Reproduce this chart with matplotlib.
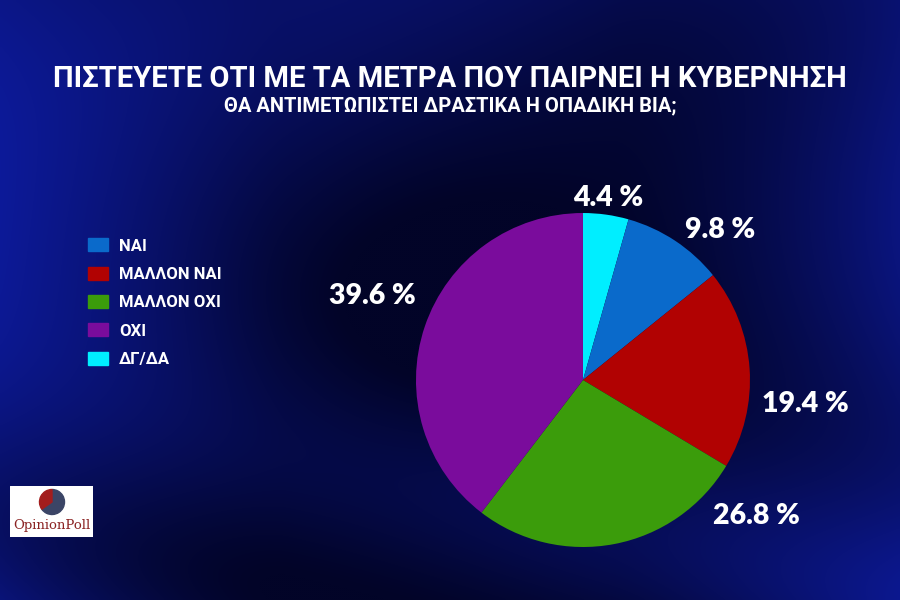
import numpy as np
import matplotlib.pyplot as plt
from matplotlib.patches import Rectangle, Wedge

# data
categories = ['ΝΑΙ', 'ΜΑΛΛΟΝ ΝΑΙ', 'ΜΑΛΛΟΝ ΟΧΙ', 'ΟΧΙ', 'ΔΓ/ΔΑ']
values = [9.8, 19.4, 26.8, 39.6, 4.4]
colors = ['#0a6acb', '#b10202', '#3b9c0b', '#7a0c9c', '#00eeff']

# pie drawn clockwise from 12 o'clock, starting with ΔΓ/ΔΑ
pie_order = [4, 0, 1, 2, 3]
# label placement (radius, angle shift in degrees from slice middle)
label_place = [(1.10, 0), (1.22, -9), (1.34, -10), (1.32, 41), (1.36, -3)]

title = 'ΠΙΣΤΕΥΕΤΕ ΟΤΙ ΜΕ ΤΑ ΜΕΤΡΑ ΠΟΥ ΠΑΙΡΝΕΙ Η ΚΥΒΕΡΝΗΣΗ'
subtitle = 'ΘΑ ΑΝΤΙΜΕΤΩΠΙΣΤΕΙ ΔΡΑΣΤΙΚΑ Η ΟΠΑΔΙΚΗ ΒΙΑ;'

narrow = ['Roboto', 'DejaVu Sans']

fig = plt.figure(figsize=(9, 6), dpi=100)

# background: dark navy with lighter blue swirls
bg = fig.add_axes([0, 0, 1, 1])
yy, xx = np.mgrid[0:1:300j, 0:1:450j]
swirl = 0.5 + 0.5 * np.sin(6 * (xx * 0.8 - yy * 0.6) + 3 * np.sin(3 * yy))
edge = np.clip(np.abs(xx - 0.5) * 2.2 - 0.4, 0, 1) ** 1.5
mid = np.exp(-((xx - 0.45) ** 2 / 0.05 + (yy - 0.55) ** 2 / 0.08))
t = np.clip(0.35 * swirl + 0.7 * edge + 0.25 * (1 - yy) * 0.5 - 0.3 * mid, 0, 1)
dark = np.array([2, 4, 40]) / 255
light = np.array([15, 30, 175]) / 255
img = dark[None, None, :] * (1 - t[..., None]) + light[None, None, :] * t[..., None]
bg.imshow(img, extent=[0, 1, 0, 1], aspect='auto', origin='upper', interpolation='bicubic')
bg.set_xlim(0, 1)
bg.set_ylim(0, 1)
bg.axis('off')

fig.text(0.5, 0.868, title, ha='center', va='center', color='white',
         fontsize=21, fontweight='bold', family=narrow)
fig.text(0.5, 0.823, subtitle, ha='center', va='center', color='white',
         fontsize=14.5, fontweight='bold', family=narrow)

# pie
ax = fig.add_axes([0.4622, 0.0883, 0.3711, 0.5567])
vals = [values[i] for i in pie_order]
cols = [colors[i] for i in pie_order]
wedges, _ = ax.pie(vals, colors=cols, startangle=90, counterclock=False,
                   wedgeprops=dict(linewidth=0))
ax.set_xlim(-1, 1)
ax.set_ylim(-1, 1)
ax.set_aspect('equal')

for w, v, (r, shift) in zip(wedges, vals, label_place):
    a = np.deg2rad((w.theta1 + w.theta2) / 2 + shift)
    ax.text(r * np.cos(a), r * np.sin(a), f'{v:.1f} %', ha='center', va='center',
            color='white', fontsize=20.5, fontweight='heavy', clip_on=False,
            family=['Lato', 'DejaVu Sans'])

# legend
handles = [Rectangle((0, 0), 1, 1, color=c) for c in colors]
leg = fig.legend(handles, categories, loc='upper left', bbox_to_anchor=(0.081, 0.628),
                 frameon=False, labelcolor='white', handlelength=1.2, handleheight=0.84,
                 labelspacing=0.78, handletextpad=0.66,
                 prop=dict(family=narrow, weight='bold', size=12))

# logo box
logo = fig.add_axes([10 / 900, 63 / 600, 83 / 900, 51 / 600])
logo.set_xlim(0, 83)
logo.set_ylim(0, 51)
logo.add_patch(Rectangle((0, 0), 83, 51, color='white'))
logo.add_patch(Wedge((42, 35), 12.5, -145, 90, color='#3b4566'))
logo.add_patch(Wedge((42, 35), 12.5, 90, 215, color='#a31d1d'))
logo.text(41.5, 11, 'OpinionPoll', ha='center', va='center', color='#8b2323',
          fontsize=9.5, family='DejaVu Serif')
logo.axis('off')

fig.savefig('out.png', dpi=100)
